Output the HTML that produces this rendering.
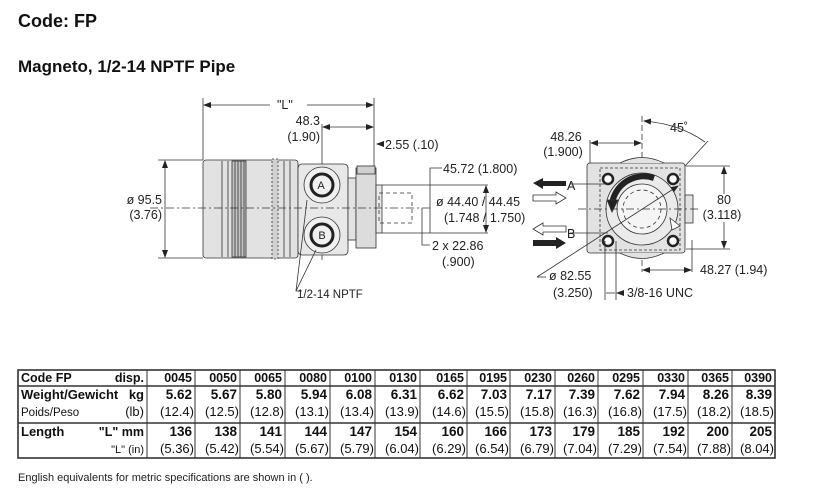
<!DOCTYPE html>
<html><head><meta charset="utf-8"><style>
body{margin:0;background:#fff;}
svg{display:block;font-family:"Liberation Sans",Arial,sans-serif;}
</style></head><body>
<svg width="817" height="490" viewBox="0 0 817 490" xmlns="http://www.w3.org/2000/svg">
<defs>
<marker id="ar" markerWidth="8" markerHeight="6" refX="7" refY="3" orient="auto-start-reverse" markerUnits="userSpaceOnUse"><path d="M0,0 L8,3 L0,6 z" fill="#222"/></marker>
</defs>
<text x="18" y="27" font-size="18" font-weight="bold" fill="#111">Code: FP</text>
<text x="18" y="72" font-size="17" font-weight="bold" fill="#111">Magneto, 1/2-14 NPTF Pipe</text>

<g stroke="#333" stroke-width="0.8" fill="none">
<line x1="203" y1="98" x2="203" y2="160"/><line x1="374" y1="98" x2="374" y2="170"/>
<line x1="204" y1="105" x2="270" y2="105" marker-start="url(#ar)"/><line x1="307" y1="105" x2="373" y2="105" marker-end="url(#ar)"/>
<line x1="323" y1="127" x2="373" y2="127" marker-start="url(#ar)" marker-end="url(#ar)"/>
<line x1="322" y1="124" x2="322" y2="260"/>
<line x1="377" y1="144" x2="384" y2="144" marker-start="url(#ar)"/>
<rect x="203" y="160" width="95" height="98" rx="3" fill="#e2e2e2"/>
<line x1="222" y1="161" x2="222" y2="257"/><line x1="228" y1="161" x2="228" y2="257"/>
<rect x="232" y="161" width="14" height="96" fill="#c4c4c4"/>
<line x1="235" y1="161" x2="235" y2="257"/><line x1="238" y1="161" x2="238" y2="257"/><line x1="241" y1="161" x2="241" y2="257"/><line x1="244" y1="161" x2="244" y2="257"/>
<rect x="272" y="159" width="6" height="100" fill="#d0d0d0" stroke-dasharray="2,2"/>
<line x1="284" y1="161" x2="284" y2="257"/><line x1="290" y1="161" x2="290" y2="257"/>
<rect x="298" y="164" width="50" height="91" rx="4" fill="#e8e8e8"/>
<rect x="348" y="178" width="8" height="62" fill="#e2e2e2"/>
<rect x="356" y="168" width="20" height="80" fill="#dcdcdc"/>
<rect x="357" y="166" width="18" height="8" fill="#d0d0d0"/>
<rect x="376" y="185" width="6" height="48" fill="#eaeaea"/>
<line x1="382" y1="185" x2="488" y2="185"/><line x1="382" y1="233" x2="488" y2="233"/>
<rect x="379" y="193" width="33" height="30" stroke-dasharray="4,3"/>
<circle cx="322" cy="185" r="18" fill="#f0f0f0"/><circle cx="322" cy="185" r="11" stroke-width="3" stroke="#222"/>
<circle cx="322" cy="235" r="18" fill="#f0f0f0"/><circle cx="322" cy="235" r="11" stroke-width="3" stroke="#222"/>
<line x1="150" y1="208" x2="430" y2="208" stroke-dasharray="8,3,2,3"/>
<line x1="158" y1="160" x2="203" y2="160"/><line x1="158" y1="258" x2="203" y2="258"/>
<line x1="165" y1="161" x2="165" y2="257" marker-start="url(#ar)" marker-end="url(#ar)"/>
<polyline points="430,233 430,168 442,168"/>
<line x1="486" y1="186" x2="486" y2="232" marker-start="url(#ar)" marker-end="url(#ar)"/>
<polyline points="422,208 422,245 430,245"/>
<polyline points="307,200 296,291 302,291"/><line x1="316" y1="250" x2="296" y2="291"/>

<line x1="642" y1="116" x2="642" y2="272" stroke-dasharray="6,3"/>
<line x1="591" y1="143" x2="641" y2="143" marker-start="url(#ar)" marker-end="url(#ar)"/>
<line x1="590" y1="140" x2="590" y2="163"/>
<path d="M644,121 Q680,124 705,142" marker-start="url(#ar)"/>
<line x1="708" y1="141" x2="685" y2="166"/>
<rect x="587" y="163" width="98" height="90" rx="3" fill="#e2e2e2"/>
<path d="M620,163 Q642,152 664,163" fill="#e2e2e2"/><path d="M620,253 Q642,264 664,253" fill="#e2e2e2"/>
<rect x="685" y="195" width="8" height="28" fill="#e2e2e2"/>
<path d="M600,168 L680,168 L680,250 L600,250 Z" stroke-dasharray="3,2"/>
<circle cx="642" cy="209" r="36" fill="#ebebeb"/>
<circle cx="642" cy="209" r="25" fill="#f5f5f5"/>
<circle cx="642" cy="209" r="19" stroke-dasharray="4,3"/>
<path d="M654,178 A32,32 0 0 0 612,204" stroke="#222" stroke-width="6"/>
<path d="M607,200 L612,212 L618,200 Z" fill="#222"/>
<path d="M670,218 L680,226 L672,230 Z" fill="#fff"/>
<circle cx="608" cy="179" r="5" stroke-width="2.5" stroke="#222" fill="#fff"/><circle cx="673" cy="179" r="5" stroke-width="2.5" stroke="#222" fill="#fff"/>
<circle cx="608" cy="241" r="5" stroke-width="2.5" stroke="#222" fill="#fff"/><circle cx="673" cy="241" r="5" stroke-width="2.5" stroke="#222" fill="#fff"/>
<line x1="578" y1="209" x2="700" y2="209" stroke-dasharray="8,3,2,3"/>
<line x1="537" y1="277" x2="678" y2="186" marker-end="url(#ar)"/><line x1="537" y1="277" x2="546" y2="277"/>
<line x1="570" y1="184" x2="608" y2="184"/><line x1="570" y1="233" x2="608" y2="233"/>
<line x1="686" y1="166" x2="730" y2="166"/><line x1="686" y1="249" x2="730" y2="249"/>
<line x1="724" y1="167" x2="724" y2="194" marker-start="url(#ar)"/><line x1="724" y1="222" x2="724" y2="248" marker-end="url(#ar)"/>
<line x1="692" y1="240" x2="692" y2="272"/>
<line x1="643" y1="270" x2="691" y2="270" marker-start="url(#ar)" marker-end="url(#ar)"/>
<line x1="605" y1="241" x2="605" y2="300"/><line x1="616" y1="241" x2="616" y2="300"/>
<line x1="606" y1="293" x2="615" y2="293"/><line x1="617" y1="293" x2="624" y2="293" marker-start="url(#ar)"/>
</g>
<path d="M533,183 L543,178 L543,181 L566,181 L566,186 L543,186 L543,189 Z" fill="#222"/>
<path d="M533,195 L556,195 L556,192 L566,198 L556,204 L556,201 L533,201 Z" fill="#fff" stroke="#333" stroke-width="0.8"/>
<path d="M533,229 L543,223 L543,226 L566,226 L566,232 L543,232 L543,235 Z" fill="#fff" stroke="#333" stroke-width="0.8"/>
<path d="M533,240 L556,240 L556,237 L566,243 L556,249 L556,246 L533,246 Z" fill="#222"/>

<g font-size="12.5" fill="#222">
<text x="277" y="109">"L"</text>
<text x="320" y="125" text-anchor="end">48.3</text><text x="320" y="141" text-anchor="end">(1.90)</text>
<text x="385" y="149">2.55 (.10)</text>
<text x="443" y="173">45.72 (1.800)</text>
<text x="436" y="206">ø 44.40 / 44.45</text>
<text x="444" y="222">(1.748 / 1.750)</text>
<text x="432" y="250">2 x 22.86</text><text x="442" y="266">(.900)</text>
<text x="162" y="204" text-anchor="end">ø 95.5</text><text x="162" y="219" text-anchor="end">(3.76)</text>
<text x="297" y="298" font-size="11.5">1/2-14 NPTF</text>
<text x="321" y="189" font-size="11" text-anchor="middle">A</text>
<text x="322" y="239" font-size="11" text-anchor="middle">B</text>
<text x="566" y="141" text-anchor="middle">48.26</text><text x="563" y="156" text-anchor="middle">(1.900)</text>
<text x="670" y="132">45˚</text>
<text x="567" y="190">A</text><text x="567" y="238">B</text>
<text x="724" y="204" text-anchor="middle">80</text><text x="722" y="219" text-anchor="middle">(3.118)</text>
<text x="700" y="274">48.27 (1.94)</text>
<text x="549" y="280">ø 82.55</text><text x="553" y="297">(3.250)</text>
<text x="627" y="297">3/8-16 UNC</text>
</g>

<g stroke="#333" fill="none">
<rect x="18" y="370" width="757" height="88" stroke-width="1.6"/>
<line x1="18" y1="386" x2="775" y2="386" stroke-width="1.4"/>
<line x1="18" y1="423" x2="775" y2="423" stroke-width="1.4"/>
<g stroke-width="1">
<line x1="147" y1="370" x2="147" y2="458"/><line x1="195" y1="370" x2="195" y2="458"/><line x1="240" y1="370" x2="240" y2="458"/><line x1="285" y1="370" x2="285" y2="458"/><line x1="330" y1="370" x2="330" y2="458"/><line x1="375" y1="370" x2="375" y2="458"/><line x1="420" y1="370" x2="420" y2="458"/><line x1="467" y1="370" x2="467" y2="458"/><line x1="510" y1="370" x2="510" y2="458"/><line x1="555" y1="370" x2="555" y2="458"/><line x1="598" y1="370" x2="598" y2="458"/><line x1="643" y1="370" x2="643" y2="458"/><line x1="688" y1="370" x2="688" y2="458"/><line x1="732" y1="370" x2="732" y2="458"/>
</g></g>
<g font-size="12.5" fill="#111">
<text x="21" y="382" font-weight="bold">Code FP</text><text x="144" y="382" text-anchor="end" font-weight="bold">disp.</text>
<text x="21" y="399" font-weight="bold" font-size="13">Weight/Gewicht</text><text x="144" y="399" text-anchor="end" font-weight="bold" font-size="13">kg</text>
<text x="21" y="416" font-size="11.5">Poids/Peso</text><text x="144" y="416" text-anchor="end" font-size="13">(lb)</text>
<text x="21" y="436" font-weight="bold" font-size="13">Length</text><text x="144" y="436" text-anchor="end" font-weight="bold">"L" mm</text>
<text x="144" y="453" text-anchor="end" font-size="11">"L" (in)</text>
<g text-anchor="end" font-weight="bold">
<text x="192" y="382">0045</text><text x="237" y="382">0050</text><text x="282" y="382">0065</text><text x="327" y="382">0080</text><text x="372" y="382">0100</text><text x="417" y="382">0130</text><text x="464" y="382">0165</text><text x="507" y="382">0195</text><text x="552" y="382">0230</text><text x="595" y="382">0260</text><text x="640" y="382">0295</text><text x="685" y="382">0330</text><text x="729" y="382">0365</text><text x="772" y="382">0390</text>
<g font-size="13.5">
<text x="192" y="399">5.62</text><text x="237" y="399">5.67</text><text x="282" y="399">5.80</text><text x="327" y="399">5.94</text><text x="372" y="399">6.08</text><text x="417" y="399">6.31</text><text x="464" y="399">6.62</text><text x="507" y="399">7.03</text><text x="552" y="399">7.17</text><text x="595" y="399">7.39</text><text x="640" y="399">7.62</text><text x="685" y="399">7.94</text><text x="729" y="399">8.26</text><text x="772" y="399">8.39</text>
<text x="192" y="436">136</text><text x="237" y="436">138</text><text x="282" y="436">141</text><text x="327" y="436">144</text><text x="372" y="436">147</text><text x="417" y="436">154</text><text x="464" y="436">160</text><text x="507" y="436">166</text><text x="552" y="436">173</text><text x="595" y="436">179</text><text x="640" y="436">185</text><text x="685" y="436">192</text><text x="729" y="436">200</text><text x="772" y="436">205</text>
</g></g>
<g text-anchor="end" font-size="13">
<text x="194" y="416">(12.4)</text><text x="239" y="416">(12.5)</text><text x="284" y="416">(12.8)</text><text x="329" y="416">(13.1)</text><text x="374" y="416">(13.4)</text><text x="419" y="416">(13.9)</text><text x="466" y="416">(14.6)</text><text x="509" y="416">(15.5)</text><text x="554" y="416">(15.8)</text><text x="597" y="416">(16.3)</text><text x="642" y="416">(16.8)</text><text x="687" y="416">(17.5)</text><text x="731" y="416">(18.2)</text><text x="774" y="416">(18.5)</text>
<text x="194" y="453">(5.36)</text><text x="239" y="453">(5.42)</text><text x="284" y="453">(5.54)</text><text x="329" y="453">(5.67)</text><text x="374" y="453">(5.79)</text><text x="419" y="453">(6.04)</text><text x="466" y="453">(6.29)</text><text x="509" y="453">(6.54)</text><text x="554" y="453">(6.79)</text><text x="597" y="453">(7.04)</text><text x="642" y="453">(7.29)</text><text x="687" y="453">(7.54)</text><text x="731" y="453">(7.88)</text><text x="774" y="453">(8.04)</text>
</g>
</g>
<text x="18" y="481" font-size="11" fill="#222">English equivalents for metric specifications are shown in ( ).</text>
</svg>
</body></html>
